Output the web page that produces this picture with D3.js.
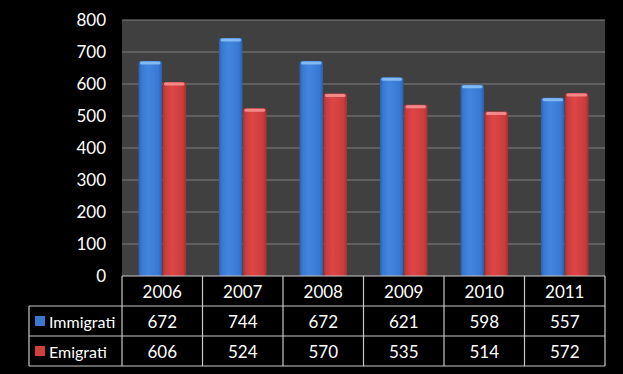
<!DOCTYPE html>
<html>
<head>
<meta charset="utf-8">
<script src="https://d3js.org/d3.v7.min.js"></script>
<style>
  body { margin: 0; background: #000; }
  svg { display: block; }
</style>
</head>
<body>
<div id="chart"></div>
<script>
var years = ["2006", "2007", "2008", "2009", "2010", "2011"];
var seriesNames = ["Immigrati", "Emigrati"];
var immigrati = [672, 744, 672, 621, 598, 557];
var emigrati = [606, 524, 570, 535, 514, 572];
var yTicks = [0, 100, 200, 300, 400, 500, 600, 700, 800];

var width = 623, height = 374;
var plot = { left: 122, right: 605, top: 20, bottom: 276 };
var rowH = 30;
var legendLeft = 29;
var font = "Lato, 'Open Sans', sans-serif";
var fs = "17px";

var svg = d3.select("#chart").append("svg")
  .attr("width", width)
  .attr("height", height);

svg.append("rect").attr("width", width).attr("height", height).attr("fill", "#000");

var defs = svg.append("defs");
function makeGrad(id, dark, mid, light) {
  var g = defs.append("linearGradient").attr("id", id)
    .attr("x1", "0%").attr("x2", "100%").attr("y1", "0%").attr("y2", "0%");
  g.append("stop").attr("offset", "0%").attr("stop-color", dark);
  g.append("stop").attr("offset", "12%").attr("stop-color", mid);
  g.append("stop").attr("offset", "40%").attr("stop-color", light);
  g.append("stop").attr("offset", "85%").attr("stop-color", mid);
  g.append("stop").attr("offset", "100%").attr("stop-color", dark);
}
makeGrad("gBlue", "#2b5fa8", "#3878d2", "#4286e0");
makeGrad("gRed", "#a83030", "#cc3c3c", "#dc4646");

var x = d3.scaleBand().domain(years).range([plot.left, plot.right]).paddingInner(0).paddingOuter(0);
var x1 = d3.scaleBand().domain(seriesNames).range([16, x.bandwidth() - 16]).padding(0.02);
var y = d3.scaleLinear().domain([0, 800]).range([plot.bottom, plot.top]);

// plot background
svg.append("rect")
  .attr("x", plot.left).attr("y", plot.top)
  .attr("width", plot.right - plot.left).attr("height", plot.bottom - plot.top)
  .attr("fill", "#404040");

// gridlines
svg.append("g").selectAll("line")
  .data(yTicks.filter(function(d) { return d > 0; }))
  .enter().append("line")
  .attr("x1", plot.left).attr("x2", plot.right)
  .attr("y1", function(d) { return y(d); }).attr("y2", function(d) { return y(d); })
  .attr("stroke", "#808080").attr("stroke-width", 1.2);

// y axis labels
var yAxis = svg.append("g")
  .attr("transform", "translate(" + plot.left + ",0)")
  .call(d3.axisLeft(y).tickValues(yTicks).tickSize(0).tickPadding(16));
yAxis.select(".domain").remove();
yAxis.selectAll("text")
  .attr("fill", "#fff")
  .style("font-family", font)
  .style("font-size", fs);

// bars
var data = [];
years.forEach(function(yr, i) {
  data.push({ year: yr, s: "Immigrati", v: immigrati[i] });
  data.push({ year: yr, s: "Emigrati", v: emigrati[i] });
});

var bars = svg.append("g").selectAll("g")
  .data(data).enter().append("g")
  .attr("transform", function(d) { return "translate(" + (x(d.year) + x1(d.s)) + ",0)"; });

bars.append("rect")
  .attr("x", 0).attr("y", function(d) { return y(d.v); })
  .attr("width", x1.bandwidth())
  .attr("height", function(d) { return y(0) - y(d.v); })
  .attr("rx", 2)
  .attr("fill", function(d) { return d.s == "Immigrati" ? "url(#gBlue)" : "url(#gRed)"; });

bars.append("rect")
  .attr("x", 1.5).attr("y", function(d) { return y(d.v) + 0.5; })
  .attr("width", x1.bandwidth() - 3).attr("height", 3)
  .attr("rx", 1.5)
  .attr("fill", function(d) { return d.s == "Immigrati" ? "#8cc0f5" : "#f59090"; })
  .attr("opacity", 0.9);

// data table
var table = svg.append("g");
var rows = [
  { label: null, vals: years },
  { label: "Immigrati", vals: immigrati, color: "#3a78d0" },
  { label: "Emigrati", vals: emigrati, color: "#d04040" }
];
var lineColor = "#c8c8c8";

rows.forEach(function(r, ri) {
  var top = plot.bottom + ri * rowH;
  years.forEach(function(yr, ci) {
    table.append("text")
      .attr("x", x(yr) + x.bandwidth() / 2)
      .attr("y", top + rowH / 2 + 7)
      .attr("text-anchor", "middle")
      .attr("fill", "#fff")
      .style("font-family", font)
      .style("font-size", fs)
      .text(r.vals[ci]);
  });
  if (r.label) {
    table.append("rect")
      .attr("x", 35).attr("y", top + rowH / 2 - 5)
      .attr("width", 10).attr("height", 10)
      .attr("fill", r.color);
    table.append("text")
      .attr("x", 49)
      .attr("y", top + rowH / 2 + 7)
      .attr("fill", "#fff")
      .style("font-family", font)
      .style("font-size", "16px")
      .text(r.label);
  }
});

// table grid lines
var tBottom = plot.bottom + rowH * 3;
function ln(x1_, y1_, x2_, y2_) {
  table.append("line")
    .attr("x1", x1_).attr("y1", y1_).attr("x2", x2_).attr("y2", y2_)
    .attr("stroke", lineColor).attr("stroke-width", 1.2);
}
ln(plot.left, plot.bottom, plot.right, plot.bottom);
ln(legendLeft, plot.bottom + rowH, plot.right, plot.bottom + rowH);
ln(legendLeft, plot.bottom + rowH * 2, plot.right, plot.bottom + rowH * 2);
ln(legendLeft, tBottom, plot.right, tBottom);
ln(legendLeft, plot.bottom + rowH, legendLeft, tBottom);
years.forEach(function(yr) { ln(x(yr), plot.bottom, x(yr), tBottom); });
ln(plot.right, plot.bottom, plot.right, tBottom);
</script>
</body>
</html>
